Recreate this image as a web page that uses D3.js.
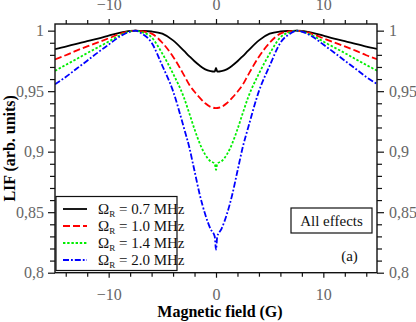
<!DOCTYPE html>
<html><head><meta charset="utf-8">
<script src="https://cdn.jsdelivr.net/npm/d3@7"></script>
<style>
body{margin:0;background:#fff;}
svg{display:block;}
</style></head>
<body><svg id="c" width="416" height="322" font-family="Liberation Serif"></svg>
<script>
// ---- data ----
const fieldG = [-15,-14,-13,-12,-11,-10,-9,-8,-7.5,-7,-6,-5,-4,-3,-2.5,-2,-1.5,-1,-0.5,-0.12,0,
                0.12,0.5,1,1.5,2,2.5,3,4,5,6,7,7.5,8,9,10,11,12,13,14,15];
const lif07 = [0.9848,0.9868,0.9890,0.9914,0.9934,0.9958,0.9982,0.9998,1.0000,0.9998,0.9993,0.9975,0.9920,0.9835,0.9790,0.9747,0.9710,0.9680,0.9665,0.9661,0.9692,
               0.9661,0.9665,0.9680,0.9710,0.9747,0.9790,0.9835,0.9920,0.9975,0.9993,0.9998,1.0000,0.9998,0.9982,0.9958,0.9934,0.9914,0.9890,0.9868,0.9850];
const lif10 = [0.9763,0.9797,0.9835,0.9870,0.9903,0.9937,0.9972,0.9995,1.0000,0.9995,0.9975,0.9900,0.9785,0.9635,0.9555,0.9495,0.9445,0.9400,0.9370,0.9361,0.9360,
               0.9361,0.9370,0.9400,0.9445,0.9495,0.9555,0.9635,0.9785,0.9900,0.9975,0.9995,1.0000,0.9995,0.9972,0.9937,0.9903,0.9870,0.9835,0.9797,0.9765];
const lif14 = [0.9668,0.9717,0.9765,0.9815,0.9862,0.9910,0.9960,0.9993,1.0000,0.9990,0.9945,0.9810,0.9645,0.9450,0.9320,0.9185,0.9065,0.8975,0.8920,0.8903,0.8850,
               0.8903,0.8920,0.8975,0.9065,0.9185,0.9320,0.9450,0.9645,0.9810,0.9945,0.9990,1.0000,0.9993,0.9960,0.9910,0.9862,0.9815,0.9765,0.9717,0.9670];
const lif20 = [0.9557,0.9617,0.9685,0.9752,0.9820,0.9885,0.9950,0.9992,1.0000,0.9980,0.9900,0.9710,0.9500,0.9200,0.9040,0.8840,0.8640,0.8480,0.8360,0.8300,0.8190,
               0.8300,0.8360,0.8480,0.8640,0.8840,0.9040,0.9200,0.9500,0.9710,0.9900,0.9980,1.0000,0.9992,0.9950,0.9885,0.9820,0.9752,0.9685,0.9617,0.9560];
const seriesNames = ["0.7 MHz","1.0 MHz","1.4 MHz","2.0 MHz"];
const xMajorTicks = [-10,0,10];
const xMinorTicks = [-14,-12,-8,-6,-4,-2,2,4,6,8,12,14];
const yMajorTicks = [0.8,0.85,0.9,0.95,1];
const yMinorTicks = [0.81,0.82,0.83,0.84,0.86,0.87,0.88,0.89,0.91,0.92,0.93,0.94,0.96,0.97,0.98,0.99];
const boxLabel = "All effects";
const panelLabel = "(a)";

// ---- drawing ----
const FONT = "Liberation Serif";
const svg = d3.select("#c");
const L = 55, R = 377, T = 24, B = 272.7;
const x = d3.scaleLinear().domain([-15,15]).range([L,R]);
const y = d3.scaleLinear().domain([0.8,1.0055]).range([B,T]);
const loc = d3.formatLocale({decimal:",",thousands:".",grouping:[3],currency:["",""],minus:"\u2212"});
const yfmt = loc.format("~g");
const xfmt = loc.format("d");

const colors = ["#000000","#ff0000","#00ee00","#0000ff"];
const dashes = [null,"7,3","2.4,1.8","6,2,1.8,2"];
const allSeries = [lif07,lif10,lif14,lif20];

const plot = svg.append("g");
plot.append("clipPath").attr("id","clp").append("rect")
  .attr("x",L).attr("y",T).attr("width",R-L).attr("height",B-T);
const line = d3.line().x((d,i)=>x(fieldG[i])).y(d=>y(d)).curve(d3.curveMonotoneX);
allSeries.forEach((s,k)=>{
  plot.append("path").datum(s).attr("d",line).attr("fill","none")
    .attr("stroke",colors[k]).attr("stroke-width",1.8)
    .attr("stroke-dasharray",dashes[k]).attr("clip-path","url(#clp)");
});

function styleAxis(g){
  g.attr("font-family",FONT).attr("font-size",16);
  g.select(".domain").remove();
  g.selectAll(".tick line").attr("stroke","#111").attr("stroke-width",1.2);
  g.selectAll(".tick text").attr("fill","#666").attr("font-family",FONT).attr("font-size",16);
}
// bottom
svg.append("g").attr("transform",`translate(0,${B})`)
  .call(d3.axisBottom(x).tickValues(xMajorTicks).tickFormat(xfmt).tickSize(5).tickPadding(11)).call(styleAxis);
svg.append("g").attr("transform",`translate(0,${B})`)
  .call(d3.axisBottom(x).tickValues(xMinorTicks).tickFormat("").tickSize(4)).call(styleAxis);
// top
svg.append("g").attr("transform",`translate(0,${T})`)
  .call(d3.axisTop(x).tickValues(xMajorTicks).tickFormat(xfmt).tickSize(5).tickPadding(9)).call(styleAxis);
svg.append("g").attr("transform",`translate(0,${T})`)
  .call(d3.axisTop(x).tickValues(xMinorTicks).tickFormat("").tickSize(4)).call(styleAxis);
// left
svg.append("g").attr("transform",`translate(${L},0)`)
  .call(d3.axisLeft(y).tickValues(yMajorTicks).tickFormat(yfmt).tickSize(7).tickPadding(4)).call(styleAxis);
svg.append("g").attr("transform",`translate(${L},0)`)
  .call(d3.axisLeft(y).tickValues(yMinorTicks).tickFormat("").tickSize(5)).call(styleAxis);
// right
svg.append("g").attr("transform",`translate(${R},0)`)
  .call(d3.axisRight(y).tickValues(yMajorTicks).tickFormat(yfmt).tickSize(7).tickPadding(5)).call(styleAxis);
svg.append("g").attr("transform",`translate(${R},0)`)
  .call(d3.axisRight(y).tickValues(yMinorTicks).tickFormat("").tickSize(5)).call(styleAxis);

// frame
svg.append("rect").attr("x",L).attr("y",T).attr("width",R-L).attr("height",B-T)
  .attr("fill","none").attr("stroke","#111").attr("stroke-width",1.4);

// axis titles
svg.append("text").attr("x",(L+R)/2+4).attr("y",317).attr("text-anchor","middle")
  .attr("font-family",FONT).attr("font-size",16).attr("font-weight","bold").text("Magnetic field (G)");
svg.append("text").attr("transform",`translate(15,${(T+B)/2}) rotate(-90)`).attr("text-anchor","middle")
  .attr("font-family",FONT).attr("font-size",16).attr("font-weight","bold").text("LIF (arb. units)");

// legend
const lg = svg.append("g").attr("font-family",FONT);
lg.append("rect").attr("x",56).attr("y",196.5).attr("width",121).attr("height",74)
  .attr("fill","#fff").attr("stroke","#111").attr("stroke-width",1.2);
seriesNames.forEach((nm,k)=>{
  const yy = 209 + k*17;
  lg.append("line").attr("x1",63).attr("x2",87).attr("y1",yy).attr("y2",yy)
    .attr("stroke",colors[k]).attr("stroke-width",1.8).attr("stroke-dasharray",dashes[k]);
  const t = lg.append("text").attr("x",98).attr("y",yy+5).attr("font-family",FONT).attr("font-size",15).attr("fill","#111");
  t.append("tspan").text("\u03A9");
  t.append("tspan").attr("dy",3).attr("font-size",9).text("R");
  t.append("tspan").attr("dy",-3).text(" = "+nm);
});

// annotation box
svg.append("rect").attr("x",291).attr("y",208).attr("width",81).attr("height",25)
  .attr("fill","#fff").attr("stroke","#111").attr("stroke-width",1.2);
svg.append("text").attr("x",331.5).attr("y",226).attr("text-anchor","middle")
  .attr("font-family",FONT).attr("font-size",15).attr("fill","#111").text(boxLabel);
svg.append("text").attr("x",349.5).attr("y",261).attr("text-anchor","middle")
  .attr("font-family",FONT).attr("font-size",15).attr("fill","#111").text(panelLabel);
</script></body></html>
